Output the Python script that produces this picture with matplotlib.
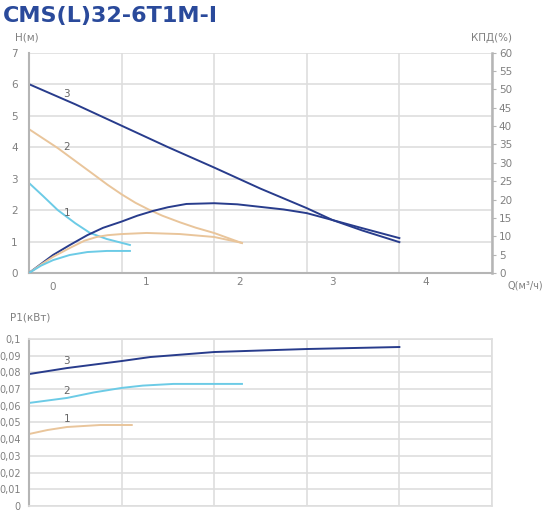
import matplotlib.pyplot as plt
from matplotlib.transforms import blended_transform_factory

# head curves H(Q), m
q_h3 = [0, 0.5, 1.0, 1.5, 2.0, 2.5, 3.0, 3.28, 3.6, 4.0]
h3 = [6.0, 5.36, 4.68, 4.0, 3.35, 2.68, 2.06, 1.68, 1.35, 0.98]
q_h2 = [0, 0.31, 0.68, 0.85, 1.0, 1.15, 1.29, 1.44, 1.63, 1.8, 2.0, 2.15, 2.3]
h2 = [4.57, 3.97, 3.17, 2.8, 2.5, 2.23, 2.02, 1.82, 1.61, 1.44, 1.27, 1.11, 0.95]
q_h1 = [0, 0.15, 0.31, 0.5, 0.66, 0.84, 1.09]
h1 = [2.86, 2.45, 2.0, 1.58, 1.27, 1.08, 0.89]

# efficiency curves, %
q_e3 = [0, 0.26, 0.44, 0.63, 0.8, 1.0, 1.17, 1.34, 1.5, 1.7, 2.0, 2.25, 2.5, 2.75, 3.0, 3.28, 3.6, 4.0]
e3 = [0, 4.9, 7.6, 10.3, 12.3, 14.0, 15.6, 16.9, 17.9, 18.8, 19.0, 18.7, 18.0, 17.3, 16.3, 14.4, 12.2, 9.5]
q_e2 = [0, 0.13, 0.26, 0.44, 0.6, 0.73, 0.85, 1.0, 1.27, 1.63, 2.0, 2.3]
e2 = [0, 2.3, 4.4, 6.8, 8.8, 9.8, 10.3, 10.6, 10.9, 10.6, 9.8, 8.2]
q_e1 = [0, 0.13, 0.26, 0.44, 0.63, 0.84, 1.09]
e1 = [0, 2.0, 3.5, 4.9, 5.7, 6.0, 6.0]

# power curves P1, kW
q_p3 = [0, 0.41, 1.0, 1.31, 2.0, 2.66, 3.0, 4.0]
p3 = [0.079, 0.0826, 0.0868, 0.0892, 0.0922, 0.0934, 0.094, 0.0952]
q_p2 = [0, 0.41, 0.7, 1.0, 1.23, 1.56, 2.3]
p2 = [0.0617, 0.0647, 0.068, 0.0707, 0.0721, 0.0731, 0.0731]
q_p1 = [0, 0.2, 0.41, 0.77, 1.11]
p1 = [0.0431, 0.0455, 0.0473, 0.0485, 0.0485]

q_labels = ['0', '1', '2', '3', '4']
p_labels = ['0', '0,01', '0,02', '0,03', '0,04', '0,05', '0,06', '0,07', '0,08', '0,09', '0,1']

navy = '#283c8c'
sky = '#6ccbe6'
tan = '#e9c59b'
grid_c = '#dedede'
txt_c = '#808080'
spine_c = '#b5b5b5'

fig = plt.figure(figsize=(5.5, 5.11), dpi=100)
fig.text(0.006, 0.988, 'CMS(L)32-6T1M-I', fontsize=16, fontweight='bold',
         color='#2a4a9b', va='top', ha='left')

# ---- top chart: head + efficiency
ax = fig.add_axes([0.0527, 0.4658, 0.8418, 0.4311])
ax.set_xlim(0, 5)
ax.set_ylim(0, 7)
ax.set_xticks(range(6))
ax.set_yticks(range(8))
ax.tick_params(axis='x', length=0, labelbottom=False)
ax.tick_params(axis='y', length=0, labelsize=7.5, labelcolor=txt_c, pad=8)
ax.grid(True, color=grid_c, linewidth=1.2)
ax.set_axisbelow(True)
for s in ['top', 'right']:
    ax.spines[s].set_visible(False)
ax.spines['left'].set_color(spine_c)
ax.spines['left'].set_linewidth(1.5)
ax.spines['bottom'].set_color(spine_c)
ax.spines['bottom'].set_linewidth(1.5)

ax.plot(q_h3, h3, color=navy, lw=1.4)
ax.plot(q_h2, h2, color=tan, lw=1.4)
ax.plot(q_h1, h1, color=sky, lw=1.4)

ax2 = ax.twinx()
ax2.set_ylim(0, 60)
ax2.set_yticks(range(0, 61, 5))
ax2.tick_params(axis='y', length=3, color=spine_c, labelsize=7.5,
                labelcolor=txt_c, pad=2)
for s in ['top', 'left', 'bottom']:
    ax2.spines[s].set_visible(False)
ax2.spines['right'].set_color(spine_c)
ax2.spines['right'].set_linewidth(1.8)
ax2.plot(q_e3, e3, color=navy, lw=1.4)
ax2.plot(q_e2, e2, color=tan, lw=1.4)
ax2.plot(q_e1, e1, color=sky, lw=1.4)

ax.text(0.41, 5.7, '3', fontsize=7.5, color='#666666', ha='center', va='center')
ax.text(0.41, 4.0, '2', fontsize=7.5, color='#666666', ha='center', va='center')
ax.text(0.41, 1.9, '1', fontsize=7.5, color='#666666', ha='center', va='center')

# x labels sit off the gridlines in the original
tr = blended_transform_factory(ax.transData, ax.transAxes)
for i, lab in enumerate(q_labels):
    y = -0.065 if i == 0 else -0.04
    ax.text(i + 0.26 + 0.005 * i, y, lab, transform=tr, fontsize=7.5,
            color=txt_c, ha='center', va='center')
fig.text(0.955, 1 - 286 / 511, 'Q(м³/ч)', fontsize=7, color=txt_c,
         ha='center', va='center')
fig.text(0.027, 1 - 38 / 511, 'Н(м)', fontsize=7.5, color=txt_c, ha='left', va='center')
fig.text(0.93, 1 - 38 / 511, 'КПД(%)', fontsize=7.5, color=txt_c, ha='right', va='center')

# ---- bottom chart: power
bx = fig.add_axes([0.0527, 0.0098, 0.8418, 0.3268])
bx.set_xlim(0, 5)
bx.set_ylim(0, 0.1)
bx.set_xticks(range(6))
bx.set_yticks([i / 100 for i in range(11)])
bx.set_yticklabels(p_labels)
bx.tick_params(axis='x', length=0, labelbottom=False)
bx.tick_params(axis='y', length=0, labelsize=7, labelcolor=txt_c, pad=6)
bx.grid(True, color=grid_c, linewidth=1.2)
bx.set_axisbelow(True)
for s in ['top', 'right', 'bottom']:
    bx.spines[s].set_color(grid_c)
    bx.spines[s].set_linewidth(1.2)
bx.spines['left'].set_color(spine_c)
bx.spines['left'].set_linewidth(1.5)

bx.plot(q_p3, p3, color=navy, lw=1.4)
bx.plot(q_p2, p2, color=sky, lw=1.4)
bx.plot(q_p1, p1, color=tan, lw=1.4)
bx.text(0.41, 0.0868, '3', fontsize=7.5, color='#666666', ha='center', va='center')
bx.text(0.41, 0.069, '2', fontsize=7.5, color='#666666', ha='center', va='center')
bx.text(0.41, 0.0523, '1', fontsize=7.5, color='#666666', ha='center', va='center')
fig.text(0.018, 1 - 317 / 511, 'Р1(кВт)', fontsize=7.5, color=txt_c, ha='left', va='center')

fig.savefig('out.png', dpi=100)
